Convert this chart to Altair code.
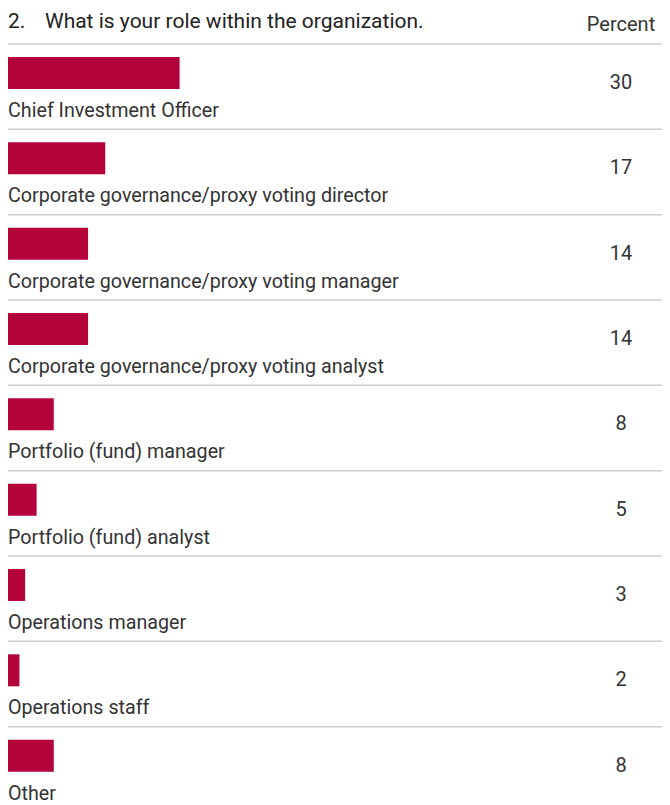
import altair as alt
import pandas as pd

roles = [
    "Chief Investment Officer",
    "Corporate governance/proxy voting director",
    "Corporate governance/proxy voting manager",
    "Corporate governance/proxy voting analyst",
    "Portfolio (fund) manager",
    "Portfolio (fund) analyst",
    "Operations manager",
    "Operations staff",
    "Other",
]
percent = [30, 17, 14, 14, 8, 5, 3, 2, 8]

question_num = "2."
question_text = "What is your role within the organization."
column_header = "Percent"

df = pd.DataFrame({"role": roles, "pct": percent})

FONT = "Roboto"
TEXT_COLOR = "#333333"
BAR_COLOR = "#b4023a"
RULE_COLOR = "#cccccc"
W = 654
H = 768

yscale = alt.Scale(paddingInner=0, paddingOuter=0)
y = alt.Y("role:N", sort=roles, scale=yscale, axis=None)

base = alt.Chart(df)

bars = base.mark_bar(color=BAR_COLOR, size=32, yOffset=-13.7).encode(
    x=alt.X("pct:Q", scale=alt.Scale(domain=[0, 100], range=[0, 572]), axis=None),
    y=y,
)

labels = base.mark_text(
    align="left", baseline="alphabetic", dy=30.3, font=FONT, fontSize=19.7, color=TEXT_COLOR
).encode(x=alt.value(0), y=y, text="role:N")

values = base.mark_text(
    align="center", baseline="alphabetic", dy=2.3, font=FONT, fontSize=20, color=TEXT_COLOR
).encode(x=alt.value(613), y=y, text="pct:Q")

rules = base.mark_rule(color=RULE_COLOR, strokeWidth=1.5).encode(
    y=alt.Y("role:N", sort=roles, scale=yscale, axis=None, bandPosition=0),
    x=alt.value(0),
    x2=alt.value(W),
)

header = alt.Chart(pd.DataFrame({"t": [column_header]})).mark_text(
    align="center", baseline="alphabetic", font=FONT, fontSize=20, color=TEXT_COLOR
).encode(x=alt.value(613), y=alt.value(-13), text="t:N")

qnum = alt.Chart(pd.DataFrame({"t": [question_num]})).mark_text(
    align="left", baseline="alphabetic", font=FONT, fontSize=21, color="#222222"
).encode(x=alt.value(0), y=alt.value(-16), text="t:N")

qtext = alt.Chart(pd.DataFrame({"t": [question_text]})).mark_text(
    align="left", baseline="alphabetic", font=FONT, fontSize=21, color="#222222"
).encode(x=alt.value(37), y=alt.value(-16), text="t:N")

chart = (
    alt.layer(rules, bars, labels, values, header, qnum, qtext)
    .properties(
        width=W,
        height=H,
        autosize=alt.AutoSizeParams(type="none"),
        padding={"left": 0, "top": 36, "right": 0, "bottom": 0},
    )
    .configure_view(stroke=None)
)

chart.save("out.html", embed_options={"renderer": "svg", "actions": False})
